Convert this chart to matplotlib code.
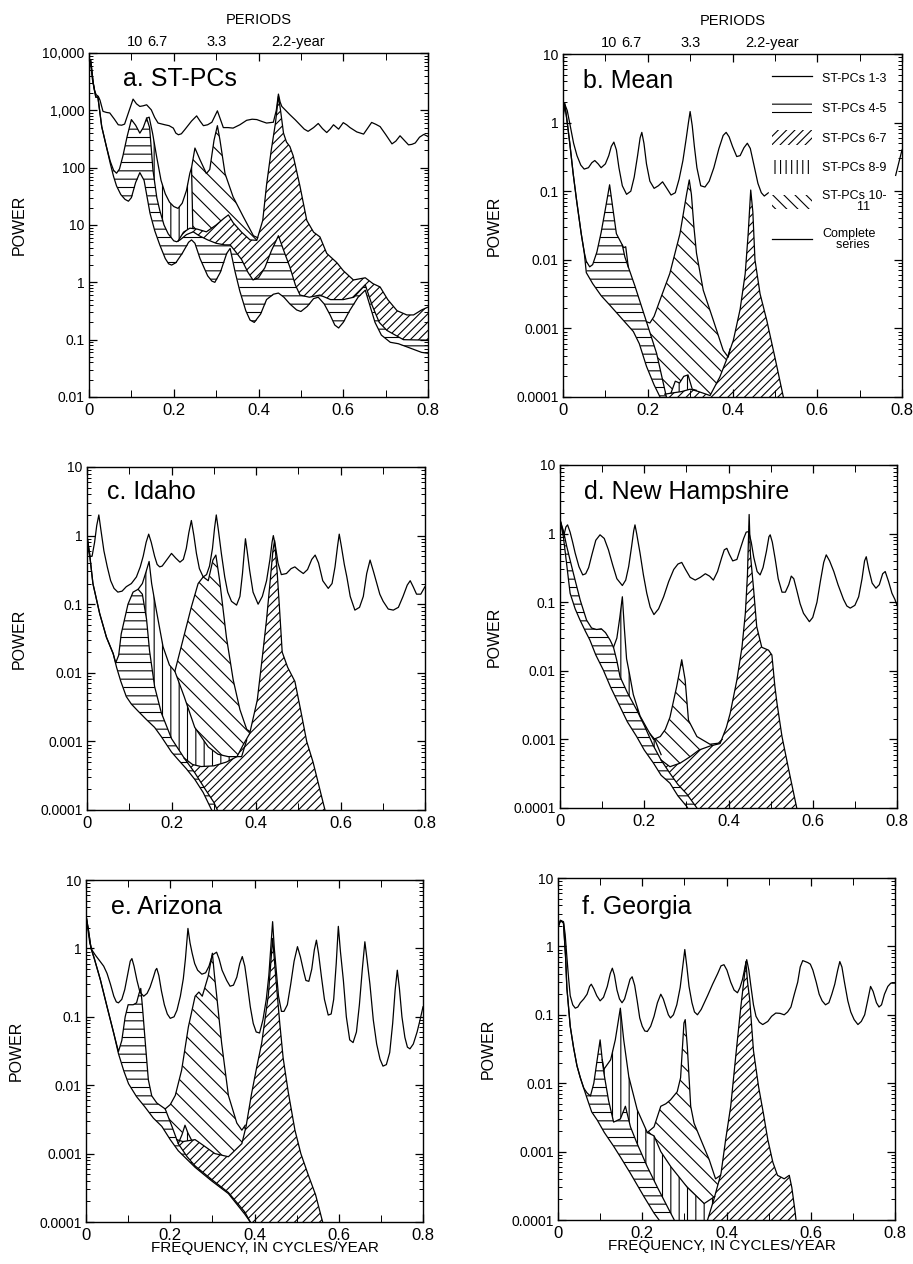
import numpy as np
import matplotlib
matplotlib.use("Agg")
import matplotlib.pyplot as plt
from matplotlib.patches import Patch
from matplotlib.lines import Line2D

plt.rcParams['font.family'] = ['Liberation Sans', 'DejaVu Sans']
plt.rcParams['hatch.linewidth'] = 0.8
plt.rcParams['hatch.color'] = 'black'

nan = float('nan')

# cumulative spectra: pc3 = ST-PCs 1-3, pc5 = 1-5, ... pc11 = 1-11
# (frequency in cycles/year, power). pc7/pc9/pc11 only where they rise above the layer below.

# ---- a. ST-PCs ----
a_complete = [(0.0, 5000), (0.003, 7500), (0.008, 3500), (0.013, 2200), (0.017, 1870), (0.022, 1750),
              (0.026, 1500), (0.033, 960), (0.041, 920), (0.049, 900), (0.06, 700), (0.069, 560),
              (0.077, 550), (0.084, 575), (0.095, 1000), (0.104, 1570), (0.112, 1300), (0.12, 1170),
              (0.128, 1200), (0.136, 1250), (0.147, 1020), (0.155, 750), (0.163, 600), (0.179, 560),
              (0.189, 540), (0.199, 490), (0.205, 400), (0.211, 375), (0.218, 390), (0.226, 460),
              (0.242, 650), (0.254, 800), (0.262, 650), (0.27, 540), (0.28, 560), (0.29, 620),
              (0.303, 980), (0.31, 700), (0.317, 500), (0.328, 500), (0.34, 490), (0.356, 560),
              (0.372, 670), (0.385, 700), (0.396, 690), (0.408, 640), (0.419, 600), (0.435, 620),
              (0.442, 1000), (0.447, 1920), (0.451, 1400), (0.455, 1170), (0.474, 840), (0.487, 680),
              (0.498, 560), (0.508, 470), (0.517, 430), (0.53, 500), (0.541, 590), (0.551, 480),
              (0.561, 410), (0.569, 470), (0.577, 560), (0.589, 470), (0.6, 610), (0.608, 560),
              (0.616, 500), (0.632, 420), (0.648, 385), (0.657, 480), (0.667, 615), (0.677, 570),
              (0.687, 520), (0.7, 380), (0.715, 260), (0.724, 290), (0.734, 360), (0.744, 300),
              (0.754, 250), (0.762, 255), (0.77, 270), (0.78, 340), (0.79, 380), (0.8, 350)]
a_pc3 = [(0.0, 6000), (0.004, 7500), (0.01, 3000), (0.016, 1700), (0.021, 1700), (0.03, 520),
         (0.041, 234), (0.05, 120), (0.058, 70), (0.065, 48), (0.075, 34), (0.085, 28), (0.093, 26),
         (0.1, 30), (0.11, 55), (0.12, 82), (0.13, 60), (0.144, 16), (0.155, 8), (0.167, 4.5),
         (0.18, 2.6), (0.188, 2.1), (0.195, 2.0), (0.205, 2.2), (0.22, 3.2), (0.235, 5), (0.242, 5.5),
         (0.25, 4.8), (0.262, 2.6), (0.28, 1.3), (0.29, 1.05), (0.297, 1.0), (0.31, 1.5), (0.325, 3.2),
         (0.333, 3.9), (0.345, 1.5), (0.356, 0.7), (0.37, 0.32), (0.38, 0.22), (0.39, 0.2),
         (0.405, 0.28), (0.419, 0.5), (0.435, 0.62), (0.447, 0.65), (0.46, 0.55), (0.474, 0.42),
         (0.49, 0.33), (0.5, 0.31), (0.515, 0.38), (0.53, 0.52), (0.541, 0.55), (0.555, 0.42),
         (0.569, 0.27), (0.58, 0.18), (0.589, 0.16), (0.6, 0.2), (0.615, 0.32), (0.635, 0.55),
         (0.652, 0.73), (0.665, 0.35), (0.675, 0.2), (0.69, 0.12), (0.711, 0.09), (0.73, 0.085),
         (0.75, 0.075), (0.77, 0.066), (0.785, 0.06), (0.8, 0.058)]
a_pc5 = [(0.0, 6000), (0.004, 7500), (0.01, 3000), (0.016, 1700), (0.021, 1700), (0.03, 520),
         (0.041, 234), (0.05, 130), (0.058, 90), (0.065, 80), (0.072, 95), (0.08, 160), (0.09, 350),
         (0.1, 690), (0.11, 550), (0.12, 400), (0.128, 500), (0.136, 730), (0.143, 500), (0.151, 90),
         (0.16, 30), (0.167, 18), (0.177, 10), (0.187, 7), (0.2, 5.3), (0.207, 5.1), (0.215, 5.5),
         (0.23, 6.8), (0.246, 7.6), (0.26, 6.5), (0.28, 5.5), (0.3, 4.8), (0.32, 4.5), (0.333, 4.5),
         (0.345, 3.5), (0.36, 2.5), (0.375, 1.5), (0.387, 1.1), (0.4, 1.2), (0.415, 1.8), (0.43, 3.5),
         (0.447, 6.5), (0.46, 3.5), (0.474, 1.85), (0.487, 0.9), (0.498, 0.6), (0.52, 0.55),
         (0.545, 0.6), (0.57, 0.5), (0.6, 0.5), (0.625, 0.55), (0.652, 0.9), (0.668, 0.4),
         (0.685, 0.2), (0.703, 0.145), (0.742, 0.1), (0.8, 0.098)]
a_pc7 = [[(0.21, 5.2), (0.223, 7.5), (0.238, 8.8), (0.255, 8.5), (0.277, 7.6), (0.3, 10), (0.318, 13),
          (0.329, 15), (0.34, 11), (0.36, 7.5), (0.38, 5.5), (0.396, 5.4), (0.41, 12), (0.419, 50),
          (0.43, 200), (0.44, 600), (0.447, 1750), (0.452, 1000), (0.459, 400), (0.466, 280),
          (0.474, 234), (0.482, 160), (0.498, 47), (0.514, 12), (0.53, 7.5), (0.545, 6.2),
          (0.561, 3.2), (0.585, 2.2), (0.6, 1.6), (0.624, 1.1), (0.652, 1.2), (0.67, 0.95),
          (0.687, 0.83), (0.705, 0.5), (0.727, 0.32), (0.75, 0.27), (0.766, 0.27), (0.785, 0.33),
          (0.8, 0.37)]]
a_pc9 = [[(0.136, 730), (0.142, 760), (0.15, 400), (0.16, 150), (0.17, 60), (0.18, 35), (0.19, 25),
          (0.2, 21), (0.21, 19.5), (0.22, 24), (0.23, 40), (0.238, 80), (0.242, 100), (0.245, 9)]]
a_pc11 = [[(0.242, 100), (0.25, 220), (0.262, 137), (0.277, 79), (0.285, 93), (0.295, 300),
           (0.303, 540), (0.309, 306), (0.321, 79), (0.34, 31), (0.364, 14), (0.388, 6.5), (0.398, 6)]]

# ---- b. Mean ----
b_complete = [(0.0, 1.2), (0.005, 1.8), (0.01, 1.5), (0.017, 0.9), (0.025, 0.5), (0.033, 0.33),
              (0.042, 0.24), (0.05, 0.21), (0.06, 0.22), (0.068, 0.26), (0.075, 0.28), (0.083, 0.25),
              (0.09, 0.22), (0.1, 0.25), (0.108, 0.33), (0.114, 0.45), (0.12, 0.52), (0.126, 0.4),
              (0.132, 0.22), (0.14, 0.12), (0.15, 0.09), (0.16, 0.1), (0.168, 0.16), (0.176, 0.33),
              (0.182, 0.6), (0.186, 0.72), (0.191, 0.5), (0.197, 0.25), (0.205, 0.14), (0.215, 0.11),
              (0.225, 0.12), (0.235, 0.137), (0.245, 0.11), (0.255, 0.088), (0.265, 0.095),
              (0.274, 0.15), (0.283, 0.28), (0.291, 0.6), (0.296, 1.0), (0.3, 1.45), (0.305, 0.9),
              (0.31, 0.45), (0.316, 0.22), (0.325, 0.12), (0.335, 0.115), (0.345, 0.14), (0.356, 0.22),
              (0.368, 0.42), (0.378, 0.65), (0.385, 0.72), (0.392, 0.62), (0.4, 0.45), (0.41, 0.32),
              (0.418, 0.33), (0.427, 0.43), (0.435, 0.5), (0.442, 0.42), (0.45, 0.25), (0.46, 0.13),
              (0.468, 0.095), (0.475, 0.085), (0.485, 0.095), (0.49, nan), (0.785, 0.17), (0.8, 0.4)]
b_pc3 = [(0.0, 1.3), (0.004, 1.9), (0.01, 1.0), (0.016, 0.5), (0.024, 0.18), (0.032, 0.074),
         (0.043, 0.024), (0.05, 0.013), (0.055, 0.0065), (0.07, 0.0045), (0.09, 0.003), (0.11, 0.0022),
         (0.134, 0.0015), (0.166, 0.0009), (0.18, 0.0006), (0.197, 0.00028), (0.215, 0.00015),
         (0.229, 0.0001), (0.26, 0.00003)]
b_pc5 = [(0.0, 1.3), (0.004, 1.9), (0.01, 1.0), (0.016, 0.5), (0.024, 0.18), (0.032, 0.074),
         (0.043, 0.024), (0.05, 0.013), (0.055, 0.0095), (0.063, 0.0079), (0.07, 0.0085), (0.08, 0.013),
         (0.09, 0.025), (0.1, 0.055), (0.11, 0.124), (0.117, 0.06), (0.126, 0.024), (0.14, 0.0164),
         (0.146, 0.011), (0.154, 0.0079), (0.17, 0.0041), (0.197, 0.00125), (0.221, 0.00043),
         (0.244, 0.0001), (0.26, 0.00004)]
b_pc7 = [[(0.24, 0.00011), (0.26, 0.000115), (0.28, 0.00012), (0.3, 0.00013), (0.32, 0.00012),
          (0.347, 0.000105), (0.37, 0.000195), (0.386, 0.00035), (0.402, 0.00067), (0.418, 0.0019),
          (0.43, 0.0063), (0.437, 0.024), (0.443, 0.104), (0.448, 0.05), (0.453, 0.01), (0.465, 0.0032),
          (0.481, 0.0013), (0.5, 0.00038), (0.52, 0.0001), (0.536, 0.00003)]]
b_pc9 = [[(0.14, 0.0164), (0.143, 0.015), (0.148, 0.0155), (0.154, 0.0079)],
         [(0.255, 0.000115), (0.265, 0.00017), (0.275, 0.00016), (0.285, 0.0002), (0.295, 0.00021),
          (0.305, 0.00013), (0.315, 0.000125)]]
b_pc11 = [[(0.197, 0.00125), (0.205, 0.0012), (0.215, 0.0015), (0.229, 0.0026), (0.252, 0.0063),
           (0.276, 0.024), (0.292, 0.093), (0.298, 0.146), (0.303, 0.09), (0.309, 0.03),
           (0.315, 0.0125), (0.331, 0.0036), (0.355, 0.0013), (0.378, 0.00048), (0.39, 0.00038),
           (0.394, 0.0005)]]

# ---- c. Idaho ----
c_complete = [(0.0, 0.9), (0.006, 0.5), (0.012, 0.5), (0.018, 0.8), (0.023, 1.4), (0.028, 2.0),
              (0.033, 1.2), (0.04, 0.6), (0.048, 0.35), (0.056, 0.22), (0.064, 0.17), (0.073, 0.15),
              (0.083, 0.155), (0.093, 0.18), (0.105, 0.2), (0.117, 0.25), (0.126, 0.35), (0.133, 0.5),
              (0.14, 0.8), (0.146, 1.05), (0.152, 0.8), (0.16, 0.5), (0.166, 0.38), (0.172, 0.35),
              (0.178, 0.36), (0.186, 0.42), (0.2, 0.55), (0.21, 0.47), (0.22, 0.41), (0.228, 0.45),
              (0.235, 0.65), (0.241, 1.1), (0.247, 1.66), (0.253, 1.0), (0.259, 0.55), (0.266, 0.33),
              (0.275, 0.25), (0.283, 0.27), (0.29, 0.36), (0.297, 0.65), (0.302, 1.3), (0.306, 2.0),
              (0.311, 1.2), (0.318, 0.55), (0.326, 0.25), (0.333, 0.15), (0.342, 0.11), (0.354, 0.097),
              (0.362, 0.13), (0.368, 0.28), (0.372, 0.55), (0.375, 0.9), (0.379, 0.6), (0.385, 0.31),
              (0.393, 0.15), (0.405, 0.1), (0.415, 0.13), (0.425, 0.22), (0.433, 0.45), (0.438, 0.8),
              (0.441, 1.0), (0.446, 0.7), (0.452, 0.4), (0.46, 0.27), (0.472, 0.28), (0.483, 0.33),
              (0.492, 0.35), (0.502, 0.31), (0.512, 0.28), (0.522, 0.32), (0.532, 0.45), (0.54, 0.52),
              (0.548, 0.4), (0.558, 0.22), (0.571, 0.17), (0.58, 0.2), (0.587, 0.35), (0.593, 0.7),
              (0.597, 1.05), (0.602, 0.7), (0.609, 0.38), (0.615, 0.25), (0.623, 0.13), (0.634, 0.082),
              (0.645, 0.09), (0.654, 0.13), (0.662, 0.28), (0.67, 0.44), (0.678, 0.3), (0.686, 0.2),
              (0.693, 0.14), (0.701, 0.11), (0.713, 0.085), (0.725, 0.082), (0.737, 0.09),
              (0.748, 0.13), (0.758, 0.19), (0.765, 0.22), (0.772, 0.18), (0.78, 0.14), (0.79, 0.14),
              (0.8, 0.18)]
c_pc3 = [(0.0, 1.0), (0.006, 0.55), (0.014, 0.2), (0.03, 0.073), (0.046, 0.033), (0.062, 0.019),
         (0.07, 0.012), (0.08, 0.0075), (0.093, 0.0045), (0.105, 0.0035), (0.12, 0.0028), (0.14, 0.0021),
         (0.16, 0.0016), (0.176, 0.00117), (0.2, 0.0007), (0.216, 0.00054), (0.235, 0.0004),
         (0.255, 0.00028), (0.275, 0.00018), (0.295, 0.0001), (0.32, 0.00005)]
c_pc5 = [(0.0, 1.0), (0.006, 0.55), (0.014, 0.2), (0.03, 0.073), (0.046, 0.033), (0.062, 0.019),
         (0.068, 0.014), (0.075, 0.018), (0.081, 0.037), (0.097, 0.1), (0.109, 0.15), (0.121, 0.165),
         (0.131, 0.14), (0.141, 0.06), (0.148, 0.021), (0.16, 0.0063), (0.176, 0.0026), (0.2, 0.0011),
         (0.231, 0.00056), (0.255, 0.00035), (0.28, 0.0002), (0.3, 0.00013), (0.32, 0.00007)]
c_pc7 = [[(0.23, 0.00057), (0.25, 0.00046), (0.27, 0.00043), (0.3, 0.00044), (0.33, 0.0005),
          (0.355, 0.0006), (0.37, 0.0009), (0.385, 0.0013), (0.403, 0.004), (0.415, 0.017),
          (0.425, 0.06), (0.433, 0.2), (0.44, 0.6), (0.444, 0.85), (0.45, 0.3), (0.456, 0.08),
          (0.462, 0.02), (0.475, 0.012), (0.492, 0.0075), (0.505, 0.003), (0.52, 0.001),
          (0.535, 0.0005), (0.56, 0.00012), (0.58, 0.00004)]]
c_pc9 = [[(0.121, 0.165), (0.131, 0.2), (0.14, 0.3), (0.147, 0.42), (0.153, 0.2), (0.164, 0.082),
          (0.18, 0.024), (0.195, 0.013), (0.208, 0.0105), (0.23, 0.0045), (0.255, 0.0016),
          (0.287, 0.00083), (0.31, 0.00065), (0.334, 0.0006), (0.366, 0.0006), (0.378, 0.00105)]]
c_pc11 = [[(0.208, 0.0105), (0.227, 0.03), (0.247, 0.091), (0.263, 0.2), (0.275, 0.25), (0.287, 0.22),
           (0.298, 0.44), (0.305, 0.52), (0.314, 0.22), (0.33, 0.033), (0.346, 0.0079),
           (0.362, 0.0029), (0.378, 0.0015), (0.385, 0.0014)]]

# ---- d. New Hampshire ----
d_complete = [(0.0, 1.6), (0.005, 1.2), (0.0095, 0.96), (0.014, 1.25), (0.018, 1.34), (0.024, 1.05),
              (0.03, 0.75), (0.036, 0.52), (0.045, 0.33), (0.054, 0.25), (0.061, 0.26), (0.068, 0.32),
              (0.076, 0.5), (0.085, 0.8), (0.095, 0.96), (0.105, 0.85), (0.115, 0.58), (0.125, 0.35),
              (0.135, 0.22), (0.148, 0.175), (0.156, 0.21), (0.163, 0.33), (0.17, 0.65), (0.175, 1.1),
              (0.178, 1.34), (0.182, 1.0), (0.19, 0.52), (0.198, 0.25), (0.206, 0.135), (0.214, 0.085),
              (0.223, 0.066), (0.234, 0.08), (0.246, 0.12), (0.258, 0.2), (0.27, 0.3), (0.28, 0.36),
              (0.289, 0.38), (0.298, 0.3), (0.309, 0.23), (0.321, 0.21), (0.333, 0.23), (0.345, 0.26),
              (0.355, 0.24), (0.364, 0.21), (0.374, 0.28), (0.384, 0.45), (0.39, 0.58), (0.396, 0.61),
              (0.402, 0.5), (0.41, 0.4), (0.42, 0.42), (0.428, 0.6), (0.436, 0.85), (0.442, 1.05),
              (0.448, 1.07), (0.454, 0.75), (0.46, 0.45), (0.468, 0.28), (0.475, 0.25), (0.482, 0.32),
              (0.49, 0.55), (0.496, 0.9), (0.499, 0.96), (0.504, 0.75), (0.511, 0.42), (0.518, 0.22),
              (0.527, 0.14), (0.535, 0.14), (0.543, 0.18), (0.549, 0.24), (0.555, 0.22), (0.562, 0.15),
              (0.57, 0.095), (0.578, 0.069), (0.592, 0.052), (0.6, 0.06), (0.61, 0.1), (0.618, 0.2),
              (0.626, 0.38), (0.632, 0.49), (0.64, 0.4), (0.65, 0.28), (0.66, 0.18), (0.673, 0.11),
              (0.681, 0.088), (0.689, 0.082), (0.7, 0.09), (0.709, 0.12), (0.717, 0.22), (0.723, 0.4),
              (0.727, 0.46), (0.733, 0.3), (0.741, 0.19), (0.75, 0.16), (0.758, 0.18), (0.766, 0.26),
              (0.772, 0.28), (0.78, 0.2), (0.788, 0.135), (0.795, 0.11), (0.8, 0.09)]
d_pc3 = [(0.0, 1.6), (0.008, 0.9), (0.016, 0.35), (0.024, 0.135), (0.036, 0.08), (0.0475, 0.055),
         (0.06, 0.038), (0.071, 0.028), (0.085, 0.017), (0.103, 0.0102), (0.12, 0.0058),
         (0.1425, 0.003), (0.16, 0.0018), (0.182, 0.0011), (0.2, 0.0007), (0.222, 0.00045),
         (0.24, 0.0003), (0.261, 0.00023), (0.28, 0.00015), (0.301, 0.000105), (0.33, 0.00005)]
d_pc5 = [(0.0, 1.6), (0.008, 1.1), (0.016, 0.65), (0.024, 0.41), (0.032, 0.26), (0.048, 0.107),
         (0.063, 0.055), (0.075, 0.042), (0.087, 0.04), (0.098, 0.041), (0.108, 0.036), (0.119, 0.028),
         (0.127, 0.022), (0.135, 0.014), (0.1425, 0.0082), (0.16, 0.0048), (0.182, 0.0027),
         (0.2, 0.0016), (0.222, 0.0008), (0.24, 0.0005), (0.261, 0.00032), (0.28, 0.00022),
         (0.301, 0.00016), (0.325, 0.0001), (0.35, 0.00005)]
d_pc7 = [[(0.24, 0.0005), (0.261, 0.0004), (0.285, 0.00045), (0.309, 0.00056), (0.33, 0.0007),
          (0.356, 0.0008), (0.38, 0.00087), (0.395, 0.0015), (0.404, 0.0024), (0.42, 0.0074),
          (0.432, 0.022), (0.44, 0.069), (0.445, 0.25), (0.449, 1.9), (0.452, 0.5), (0.459, 0.17),
          (0.467, 0.044), (0.479, 0.022), (0.495, 0.02), (0.503, 0.017), (0.51, 0.006),
          (0.515, 0.0034), (0.527, 0.0011), (0.543, 0.00036), (0.562, 0.0001), (0.58, 0.00004)]]
d_pc9 = [[(0.127, 0.022), (0.135, 0.03), (0.142, 0.06), (0.148, 0.12), (0.153, 0.04), (0.158, 0.015),
          (0.165, 0.009), (0.174, 0.0045), (0.19, 0.0022), (0.205, 0.0015), (0.214, 0.0012),
          (0.225, 0.001), (0.24, 0.0006)]]
d_pc11 = [[(0.214, 0.0012), (0.222, 0.001), (0.238, 0.0011), (0.25, 0.0014), (0.261, 0.0021),
           (0.277, 0.0059), (0.289, 0.0145), (0.297, 0.0074), (0.305, 0.0019), (0.325, 0.0011),
           (0.356, 0.00085), (0.376, 0.00088), (0.385, 0.001)]]

# ---- e. Arizona ----
e_complete = [(0.0, 3.2), (0.004, 2.0), (0.009, 1.2), (0.014, 0.95), (0.022, 0.8), (0.034, 0.64),
              (0.042, 0.55), (0.05, 0.43), (0.058, 0.3), (0.066, 0.2), (0.072, 0.165), (0.077, 0.16),
              (0.085, 0.18), (0.092, 0.25), (0.1, 0.45), (0.105, 0.65), (0.109, 0.71), (0.114, 0.55),
              (0.121, 0.34), (0.128, 0.23), (0.137, 0.2), (0.145, 0.22), (0.152, 0.27), (0.16, 0.38),
              (0.165, 0.48), (0.168, 0.51), (0.173, 0.4), (0.179, 0.24), (0.186, 0.15), (0.193, 0.11),
              (0.2, 0.095), (0.209, 0.1), (0.216, 0.125), (0.224, 0.2), (0.231, 0.36), (0.236, 0.7),
              (0.242, 1.96), (0.247, 1.2), (0.252, 0.85), (0.258, 0.6), (0.265, 0.48), (0.275, 0.42),
              (0.284, 0.44), (0.292, 0.55), (0.3, 0.8), (0.31, 0.88), (0.316, 0.7), (0.323, 0.48),
              (0.334, 0.34), (0.342, 0.28), (0.35, 0.29), (0.358, 0.38), (0.365, 0.6), (0.371, 0.76),
              (0.377, 0.55), (0.383, 0.3), (0.39, 0.14), (0.397, 0.08), (0.404, 0.06), (0.412, 0.058),
              (0.42, 0.09), (0.428, 0.18), (0.434, 0.4), (0.438, 0.9), (0.443, 2.46), (0.447, 1.0),
              (0.452, 0.45), (0.457, 0.2), (0.464, 0.12), (0.47, 0.12), (0.478, 0.15), (0.486, 0.3),
              (0.494, 0.65), (0.502, 1.06), (0.509, 0.75), (0.516, 0.48), (0.522, 0.34), (0.529, 0.33),
              (0.536, 0.5), (0.542, 0.95), (0.547, 1.32), (0.552, 0.85), (0.559, 0.38), (0.566, 0.18),
              (0.575, 0.106), (0.582, 0.11), (0.588, 0.18), (0.594, 0.6), (0.599, 2.1), (0.604, 0.9),
              (0.611, 0.34), (0.618, 0.1), (0.626, 0.046), (0.634, 0.042), (0.642, 0.06), (0.649, 0.15),
              (0.656, 0.5), (0.662, 1.25), (0.667, 0.7), (0.674, 0.3), (0.682, 0.09), (0.69, 0.04),
              (0.698, 0.024), (0.705, 0.019), (0.713, 0.02), (0.721, 0.03), (0.728, 0.08),
              (0.734, 0.25), (0.739, 0.48), (0.744, 0.26), (0.75, 0.1), (0.757, 0.05), (0.763, 0.036),
              (0.769, 0.034), (0.777, 0.04), (0.786, 0.06), (0.793, 0.09), (0.8, 0.14)]
e_pc3 = [(0.0, 3.0), (0.005, 2.0), (0.012, 1.0), (0.02, 0.7), (0.034, 0.35), (0.05, 0.14),
         (0.066, 0.057), (0.077, 0.029), (0.09, 0.016), (0.101, 0.0105), (0.12, 0.0068), (0.14, 0.0048),
         (0.16, 0.0033), (0.18, 0.0025), (0.2, 0.0016), (0.219, 0.0011), (0.259, 0.00063),
         (0.298, 0.0004), (0.338, 0.00026), (0.377, 0.00013), (0.39, 0.0001), (0.42, 0.00005)]
e_pc5 = [(0.0, 3.0), (0.005, 2.0), (0.012, 1.0), (0.02, 0.7), (0.034, 0.35), (0.05, 0.14),
         (0.066, 0.057), (0.077, 0.031), (0.085, 0.045), (0.093, 0.1), (0.1, 0.15), (0.112, 0.15),
         (0.12, 0.16), (0.126, 0.22), (0.13, 0.26), (0.134, 0.14), (0.141, 0.04), (0.148, 0.012),
         (0.156, 0.007), (0.168, 0.0055), (0.188, 0.0045), (0.204, 0.0025), (0.219, 0.0014),
         (0.24, 0.0009), (0.259, 0.00066), (0.298, 0.00042), (0.338, 0.00027), (0.377, 0.00014),
         (0.39, 0.0001), (0.42, 0.00005)]
e_pc7 = [[(0.215, 0.0016), (0.23, 0.0015), (0.259, 0.0016), (0.28, 0.0013), (0.306, 0.001),
          (0.338, 0.0009), (0.37, 0.0014), (0.38, 0.0025), (0.393, 0.0075), (0.405, 0.018),
          (0.417, 0.041), (0.433, 0.21), (0.443, 1.4), (0.453, 0.25), (0.46, 0.08), (0.468, 0.025),
          (0.48, 0.008), (0.496, 0.0022), (0.51, 0.001), (0.527, 0.0005), (0.545, 0.00025),
          (0.56, 0.00011), (0.575, 0.00005)]]
e_pc9 = [[(0.219, 0.0014), (0.228, 0.0019), (0.235, 0.0026), (0.242, 0.002), (0.25, 0.0016)]]
e_pc11 = [[(0.188, 0.0045), (0.2, 0.0052), (0.212, 0.0071), (0.227, 0.0166), (0.243, 0.071),
           (0.259, 0.2), (0.268, 0.23), (0.276, 0.2), (0.29, 0.39), (0.3, 0.85), (0.305, 0.4),
           (0.31, 0.21), (0.322, 0.041), (0.338, 0.0071), (0.358, 0.0028), (0.37, 0.0022),
           (0.378, 0.0026)]]

# ---- f. Georgia ----
f_complete = [(0.0, 1.96), (0.006, 2.4), (0.013, 2.3), (0.017, 1.5), (0.021, 0.71), (0.025, 0.35),
              (0.029, 0.19), (0.035, 0.14), (0.041, 0.125), (0.047, 0.13), (0.053, 0.15), (0.061, 0.17),
              (0.069, 0.2), (0.075, 0.26), (0.079, 0.28), (0.085, 0.24), (0.092, 0.19), (0.1, 0.16),
              (0.108, 0.18), (0.117, 0.26), (0.124, 0.4), (0.129, 0.48), (0.134, 0.38), (0.14, 0.23),
              (0.146, 0.17), (0.152, 0.15), (0.158, 0.17), (0.164, 0.23), (0.171, 0.33), (0.176, 0.36),
              (0.182, 0.27), (0.188, 0.16), (0.194, 0.09), (0.2, 0.068), (0.206, 0.058), (0.212, 0.057),
              (0.22, 0.068), (0.228, 0.095), (0.236, 0.15), (0.244, 0.2), (0.25, 0.17), (0.256, 0.13),
              (0.262, 0.1), (0.267, 0.09), (0.274, 0.1), (0.282, 0.14), (0.29, 0.25), (0.296, 0.5),
              (0.301, 0.9), (0.306, 0.5), (0.311, 0.26), (0.318, 0.15), (0.324, 0.11), (0.331, 0.1),
              (0.34, 0.12), (0.355, 0.19), (0.367, 0.28), (0.379, 0.4), (0.387, 0.52), (0.394, 0.54),
              (0.401, 0.45), (0.41, 0.3), (0.418, 0.23), (0.426, 0.21), (0.432, 0.25), (0.438, 0.33),
              (0.444, 0.5), (0.448, 0.64), (0.453, 0.45), (0.458, 0.26), (0.464, 0.14), (0.47, 0.095),
              (0.478, 0.078), (0.486, 0.072), (0.498, 0.08), (0.507, 0.095), (0.517, 0.106),
              (0.527, 0.105), (0.537, 0.1), (0.545, 0.11), (0.553, 0.13), (0.561, 0.2), (0.569, 0.3),
              (0.575, 0.5), (0.581, 0.62), (0.587, 0.6), (0.593, 0.58), (0.599, 0.55), (0.605, 0.45),
              (0.613, 0.3), (0.62, 0.2), (0.627, 0.16), (0.635, 0.14), (0.643, 0.15), (0.65, 0.2),
              (0.657, 0.28), (0.664, 0.45), (0.669, 0.6), (0.674, 0.5), (0.68, 0.3), (0.688, 0.16),
              (0.695, 0.11), (0.703, 0.085), (0.712, 0.072), (0.72, 0.08), (0.728, 0.1), (0.735, 0.16),
              (0.742, 0.26), (0.748, 0.22), (0.756, 0.15), (0.762, 0.13), (0.768, 0.14), (0.775, 0.2),
              (0.783, 0.26), (0.79, 0.29), (0.8, 0.29)]
f_pc3 = [(0.0, 1.9), (0.006, 2.4), (0.013, 2.2), (0.018, 0.7), (0.021, 0.25), (0.029, 0.068),
         (0.037, 0.033), (0.045, 0.018), (0.053, 0.012), (0.061, 0.0085), (0.069, 0.006), (0.08, 0.0038),
         (0.093, 0.0029), (0.11, 0.0019), (0.132, 0.0012), (0.15, 0.0008), (0.172, 0.00048),
         (0.204, 0.00022), (0.228, 0.000126), (0.24, 0.0001), (0.26, 0.00006)]
f_pc5 = [(0.0, 1.9), (0.006, 2.4), (0.013, 2.2), (0.018, 0.7), (0.021, 0.25), (0.029, 0.068),
         (0.037, 0.033), (0.045, 0.018), (0.053, 0.012), (0.061, 0.0085), (0.069, 0.0072),
         (0.077, 0.0065), (0.085, 0.01), (0.093, 0.022), (0.1, 0.043), (0.105, 0.022), (0.109, 0.014),
         (0.12, 0.0056), (0.132, 0.0027), (0.148, 0.003), (0.16, 0.0046), (0.172, 0.0023),
         (0.188, 0.0013), (0.212, 0.0006), (0.236, 0.0003), (0.26, 0.000155), (0.276, 0.0001),
         (0.3, 0.00005)]
f_pc7 = [[(0.34, 0.00005), (0.355, 0.0001), (0.37, 0.0002), (0.387, 0.00048), (0.398, 0.0015),
          (0.41, 0.0046), (0.422, 0.025), (0.434, 0.13), (0.442, 0.35), (0.446, 0.6), (0.45, 0.3),
          (0.455, 0.17), (0.464, 0.03), (0.476, 0.009), (0.488, 0.0035), (0.498, 0.0015),
          (0.51, 0.0007), (0.521, 0.00045), (0.537, 0.0004), (0.549, 0.00045), (0.555, 0.0003),
          (0.563, 0.00013), (0.57, 0.00005)]]
f_pc9 = [[(0.105, 0.022), (0.109, 0.016), (0.125, 0.022), (0.136, 0.043), (0.148, 0.125),
          (0.156, 0.043), (0.168, 0.0125), (0.188, 0.0041), (0.212, 0.0019), (0.228, 0.0017),
          (0.244, 0.001), (0.268, 0.0006), (0.307, 0.0003), (0.347, 0.000174), (0.372, 0.00022)]]
f_pc11 = [[(0.212, 0.0019), (0.228, 0.0023), (0.244, 0.0046), (0.256, 0.005), (0.267, 0.0057),
           (0.283, 0.0075), (0.291, 0.012), (0.299, 0.076), (0.302, 0.085), (0.307, 0.034),
           (0.315, 0.0046), (0.323, 0.0026), (0.339, 0.0015), (0.359, 0.00076), (0.374, 0.0004),
           (0.386, 0.00045)]]

period_labels = ['10', '6.7', '3.3', '2.2-year']
period_pos = [0.108, 0.162, 0.30, 0.43]

small_ticks = [1e-4, 1e-3, 1e-2, 1e-1, 1, 10]
small_labels = ['0.0001', '0.001', '0.01', '0.1', '1', '10']
big_ticks = [0.01, 0.1, 1, 10, 100, 1000, 10000]
big_labels = ['0.01', '0.1', '1', '10', '100', '1,000', '10,000']

H_4_5, H_6_7, H_8_9, H_10_11 = '--', '////', '||', '\\\\'

W, H = 913, 1264
fig = plt.figure(figsize=(W / 100, H / 100), dpi=100)


def rect(l, t, r, b):
    return [l / W, 1 - b / H, (r - l) / W, (b - t) / H]


def xy(seg):
    arr = np.array(seg, dtype=float)
    return arr[:, 0], arr[:, 1]


def panel(box, title, tpos, complete, pc3, pc5, pc7, pc9, pc11, yticks, ylabels):
    ax = fig.add_axes(rect(*box))
    ax.set_yscale('log')
    ymin, ymax = yticks[0], yticks[-1]
    ax.set_xlim(0, 0.8)
    ax.set_ylim(ymin, ymax)
    base = ymin * 1e-3
    # layers painted from the top sum down, each white fill hides the hatch beneath it
    for segs, hatch in [(pc11, H_10_11), (pc9, H_8_9), (pc7, H_6_7), ([pc5], H_4_5), ([pc3], None)]:
        for seg in segs:
            f, p = xy(seg)
            ax.fill_between(f, p, base, facecolor='white', edgecolor='black',
                            hatch=hatch, linewidth=0, zorder=2)
    for segs in [pc11, pc9, pc7, [pc5], [pc3]]:
        for seg in segs:
            f, p = xy(seg)
            ax.plot(f, p, color='black', lw=0.9, zorder=4)
    f, p = xy(complete)
    ax.plot(f, p, color='black', lw=0.9, zorder=4)

    ax.set_axisbelow(False)
    ax.set_xticks([0, 0.2, 0.4, 0.6, 0.8])
    ax.set_xticklabels(['0', '0.2', '0.4', '0.6', '0.8'])
    ax.set_xticks([0.1, 0.3, 0.5, 0.7], minor=True)
    ax.set_yticks(yticks)
    ax.set_yticklabels(ylabels)
    minor = [m * t for t in yticks[:-1] for m in range(2, 10)]
    ax.set_yticks(minor, minor=True)
    ax.set_yticklabels([], minor=True)
    ax.set_ylim(ymin, ymax)
    ax.tick_params(which='both', direction='in', top=True, right=True)
    ax.tick_params(which='major', length=6, width=0.9)
    ax.tick_params(which='minor', length=3, width=0.7)
    ax.tick_params(axis='x', which='minor', length=5)
    ax.tick_params(axis='x', pad=4, labelsize=12)
    ax.tick_params(axis='y', pad=3, labelsize=10)
    for s in ax.spines.values():
        s.set_linewidth(1.0)
    ax.text(tpos[0], tpos[1], title, transform=ax.transAxes, fontsize=18, ha='left', va='center',
            zorder=6)
    return ax


ax_a = panel((89, 53, 428, 397), 'a. ST-PCs', (0.10, 0.925), a_complete, a_pc3, a_pc5, a_pc7, a_pc9,
             a_pc11, big_ticks, big_labels)
ax_b = panel((563, 54, 902, 397), 'b. Mean', (0.06, 0.922), b_complete, b_pc3, b_pc5, b_pc7, b_pc9,
             b_pc11, small_ticks, small_labels)
ax_c = panel((87, 467, 425, 810), 'c. Idaho', (0.06, 0.927), c_complete, c_pc3, c_pc5, c_pc7, c_pc9,
             c_pc11, small_ticks, small_labels)
ax_d = panel((560, 465, 897, 808), 'd. New Hampshire', (0.07, 0.922), d_complete, d_pc3, d_pc5, d_pc7,
             d_pc9, d_pc11, small_ticks, small_labels)
ax_e = panel((86, 880, 423, 1222), 'e. Arizona', (0.075, 0.922), e_complete, e_pc3, e_pc5, e_pc7,
             e_pc9, e_pc11, small_ticks, small_labels)
ax_f = panel((558, 878, 895, 1220), 'f. Georgia', (0.07, 0.916), f_complete, f_pc3, f_pc5, f_pc7,
             f_pc9, f_pc11, small_ticks, small_labels)

# period scale above the top row
for ax in (ax_a, ax_b):
    for lab, pos in zip(period_labels, period_pos):
        ax.text(pos, 1.032, lab, transform=ax.get_xaxis_transform(), fontsize=10.5,
                ha='left' if lab.endswith('year') else 'center', va='center')
    ax.text(0.40, 1.096, 'PERIODS', transform=ax.get_xaxis_transform(), fontsize=10.5,
            ha='center', va='center')

for x, ax in [(19, ax_a), (494, ax_b), (19, ax_c), (494, ax_d), (16, ax_e), (488, ax_f)]:
    pos = ax.get_position()
    fig.text(x / W, pos.y0 + pos.height / 2, 'POWER', rotation=90, ha='center', va='center',
             fontsize=11.5)

for ax, xc in ((ax_e, 0.53), (ax_f, 0.485)):
    ax.set_xlabel('FREQUENCY, IN CYCLES/YEAR', fontsize=11, labelpad=0)
    ax.xaxis.set_label_coords(xc, -0.055)

handles = [Line2D([], [], color='black', lw=0.9),
           Patch(facecolor='white', edgecolor='black', hatch=H_4_5, linewidth=0),
           Patch(facecolor='white', edgecolor='black', hatch=H_6_7, linewidth=0),
           Patch(facecolor='white', edgecolor='black', hatch='|||', linewidth=0),
           Patch(facecolor='white', edgecolor='black', hatch='\\\\\\', linewidth=0),
           Line2D([], [], color='black', lw=0.9)]
labels = ['ST-PCs 1-3', 'ST-PCs 4-5', 'ST-PCs 6-7', 'ST-PCs 8-9', 'ST-PCs 10-\n          11',
          'Complete\n    series']
leg = ax_b.legend(handles, labels, loc='upper right', bbox_to_anchor=(0.985, 0.98), fontsize=9,
                  handlelength=3.2, handleheight=1.35, labelspacing=1.25, handletextpad=0.8,
                  borderpad=0.3, frameon=True, fancybox=False, framealpha=1.0)
for t in leg.get_texts():
    t.set_linespacing(0.85)
leg.get_frame().set_edgecolor('white')
leg.set_zorder(8)

fig.savefig('out.png', dpi=100)
